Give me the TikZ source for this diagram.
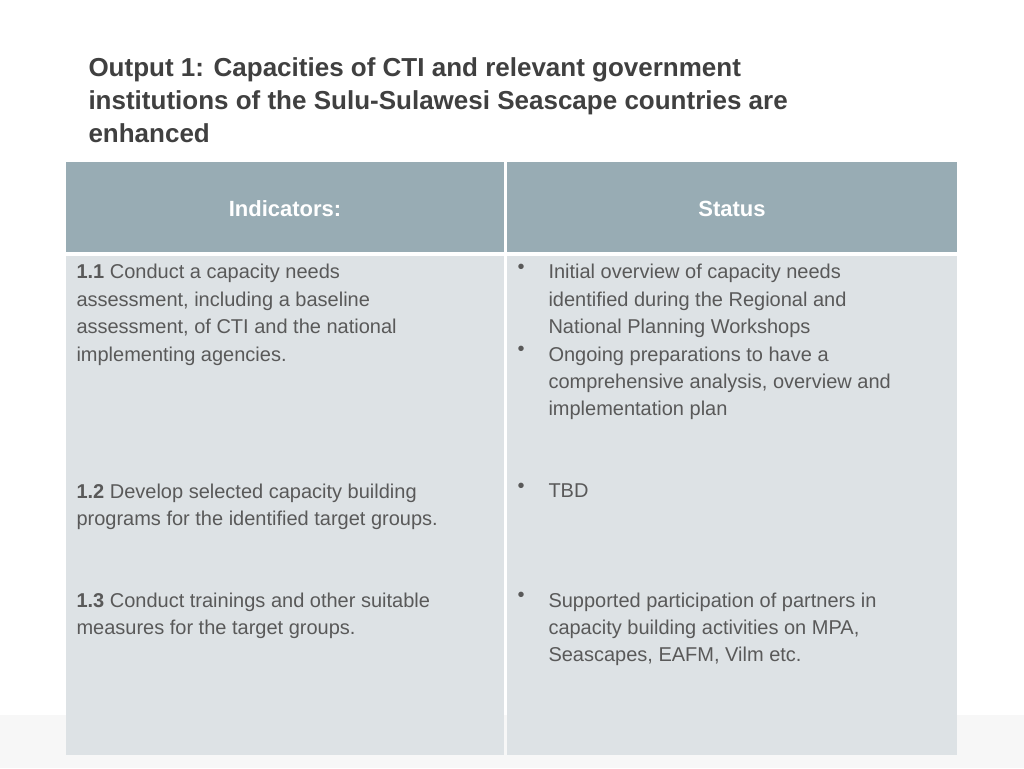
\documentclass[tikz,border=0pt]{standalone}
\usepackage{fontspec}
\setmainfont{Liberation Sans}
\definecolor{headfill}{HTML}{98ACB4}
\definecolor{cellfill}{HTML}{DDE2E5}
\definecolor{titletext}{HTML}{404040}
\definecolor{bodytext}{HTML}{595959}
\tikzset{every picture/.style={line width=0.75pt}}
\tikzset{
  headcell/.style={fill=headfill,draw=none},
  bodycell/.style={fill=cellfill,draw=none},
  headtext/.style={text=white,font=\fontsize{16.5}{20}\selectfont\bfseries,inner sep=0.75pt},
  celltext/.style={anchor=north west,align=left,text=bodytext,font=\fontsize{15}{20.6}\selectfont,inner sep=0.75pt},
  bulletmark/.style={anchor=north west,text=bodytext,font=\fontsize{15}{20.6}\selectfont,inner sep=0.75pt}
}
\begin{document}
\begin{tikzpicture}[x=0.75pt,y=0.75pt,yscale=-1,xscale=1]
\useasboundingbox (0,0) rectangle (1024,768);
\fill[white] (0,0) rectangle (1024,768);
\fill[black!3] (0,715) rectangle (1024,768);

% Title
\node (title) [anchor=north west,align=left,text=titletext,inner sep=0.75pt,
  font=\fontsize{19.5}{24.8}\selectfont\bfseries] at (87,56)
  {Output 1: Capacities of CTI and relevant government\\institutions of the Sulu-Sulawesi Seascape countries are\\enhanced};

% Cells
\path[headcell] (66,162) rectangle (504,252);
\path[headcell] (507,162) rectangle (957,252);
\path[bodycell] (66,256) rectangle (504,755);
\path[bodycell] (507,256) rectangle (957,755);

\node (hind) [headtext] at (285,209) {Indicators:};
\node (hstat) [headtext] at (732,209) {Status};

% Indicators
\node (ind1) [celltext] at (75,263) {\textbf{1.1} Conduct a capacity needs\\assessment, including a baseline\\assessment, of CTI and the national\\implementing agencies.};
\node (ind2) [celltext] at (75,482) {\textbf{1.2} Develop selected capacity building\\programs for the identified target groups.};
\node (ind3) [celltext] at (75,591) {\textbf{1.3} Conduct trainings and other suitable\\measures for the target groups.};

% Status
\node (b1) [bulletmark] at (516,263) {•};
\node (s1) [celltext] at (547,263) {Initial overview of capacity needs\\identified during the Regional and\\National Planning Workshops};
\node (b2) [bulletmark] at (516,345) {•};
\node (s2) [celltext] at (547,345) {Ongoing preparations to have a\\comprehensive analysis, overview and\\implementation plan};
\node (b3) [bulletmark] at (516,482) {•};
\node (s3) [celltext] at (547,482) {TBD};
\node (b4) [bulletmark] at (516,591) {•};
\node (s4) [celltext] at (547,591) {Supported participation of partners in\\capacity building activities on MPA,\\Seascapes, EAFM, Vilm etc.};
\end{tikzpicture}
\end{document}
